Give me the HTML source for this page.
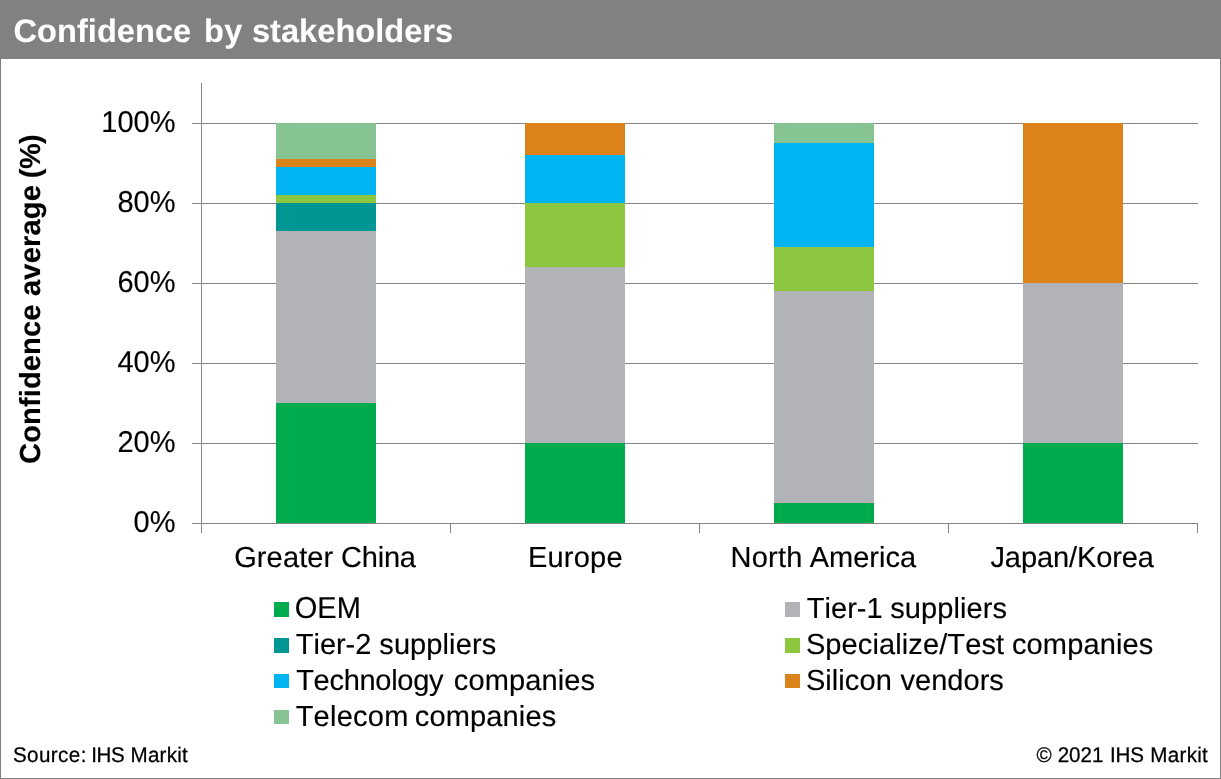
<!DOCTYPE html>
<html lang="en"><head><meta charset="utf-8"><title>Confidence by stakeholders</title>
<style>
html,body{margin:0;padding:0;background:#fff;}
body{width:1221px;height:779px;overflow:hidden;position:relative;font-family:"Liberation Sans",Arial,sans-serif;}
svg{position:absolute;left:0;top:0;display:block;}
text{font-family:"Liberation Sans",Arial,sans-serif;fill:#000;font-kerning:none;white-space:pre;text-rendering:geometricPrecision;stroke:#000;stroke-width:0.15px;stroke-linejoin:round;}
</style></head><body>
<svg width="1221" height="779" viewBox="0 0 1221 779">
<rect x="0" y="0" width="1221" height="779" fill="#fff"/>
<g shape-rendering="crispEdges">
<rect x="0" y="0" width="1221" height="59" fill="#808281"/>
<rect x="0" y="59" width="1" height="720" fill="#808080"/>
<rect x="1220" y="59" width="1" height="720" fill="#808080"/>
<rect x="0" y="778" width="1221" height="1" fill="#808080"/>
<rect x="192" y="523" width="1006" height="1" fill="#868686"/>
<rect x="192" y="443" width="1006" height="1" fill="#868686"/>
<rect x="192" y="363" width="1006" height="1" fill="#868686"/>
<rect x="192" y="283" width="1006" height="1" fill="#868686"/>
<rect x="192" y="203" width="1006" height="1" fill="#868686"/>
<rect x="192" y="123" width="1006" height="1" fill="#868686"/>
<rect x="201" y="83" width="1" height="450" fill="#868686"/>
<rect x="450" y="523" width="1" height="10" fill="#868686"/>
<rect x="699" y="523" width="1" height="10" fill="#868686"/>
<rect x="948" y="523" width="1" height="10" fill="#868686"/>
<rect x="1197" y="523" width="1" height="10" fill="#868686"/>
<rect x="276" y="403" width="100" height="120" fill="#00ab4e"/>
<rect x="276" y="231" width="100" height="172" fill="#b1b3b6"/>
<rect x="276" y="203" width="100" height="28" fill="#009694"/>
<rect x="276" y="195" width="100" height="8" fill="#8dc73f"/>
<rect x="276" y="167" width="100" height="28" fill="#00b4f2"/>
<rect x="276" y="159" width="100" height="8" fill="#db821a"/>
<rect x="276" y="123" width="100" height="36" fill="#86c494"/>
<rect x="525" y="443" width="100" height="80" fill="#00ab4e"/>
<rect x="525" y="267" width="100" height="176" fill="#b1b3b6"/>
<rect x="525" y="203" width="100" height="64" fill="#8dc73f"/>
<rect x="525" y="155" width="100" height="48" fill="#00b4f2"/>
<rect x="525" y="123" width="100" height="32" fill="#db821a"/>
<rect x="774" y="503" width="100" height="20" fill="#00ab4e"/>
<rect x="774" y="291" width="100" height="212" fill="#b1b3b6"/>
<rect x="774" y="247" width="100" height="44" fill="#8dc73f"/>
<rect x="774" y="143" width="100" height="104" fill="#00b4f2"/>
<rect x="774" y="123" width="100" height="20" fill="#86c494"/>
<rect x="1023" y="443" width="100" height="80" fill="#00ab4e"/>
<rect x="1023" y="283" width="100" height="160" fill="#b1b3b6"/>
<rect x="1023" y="123" width="100" height="160" fill="#db821a"/>
<rect x="274" y="602" width="15" height="15" fill="#00ab4e"/>
<rect x="274" y="638" width="15" height="15" fill="#009694"/>
<rect x="274" y="674" width="15" height="14" fill="#00b4f2"/>
<rect x="274" y="710" width="15" height="14" fill="#86c494"/>
<rect x="785" y="602" width="15" height="15" fill="#b1b3b6"/>
<rect x="785" y="638" width="15" height="15" fill="#8dc73f"/>
<rect x="785" y="674" width="15" height="14" fill="#db821a"/>
</g>
<text font-size="32.6" font-weight="bold" style="fill:#fff;stroke:#fff;stroke-width:0.1px" y="42"><tspan x="13.46" style="letter-spacing:0.039px">Confidence</tspan> <tspan x="204.05" style="letter-spacing:0.180px">by</tspan> <tspan x="251.95" style="letter-spacing:0.024px">stakeholders</tspan></text>
<text font-size="29" transform="translate(0,532) scale(1,1.04)" y="0"><tspan x="133.62">0%</tspan></text>
<text font-size="29" transform="translate(0,452) scale(1,1.04)" y="0"><tspan x="117.49">20%</tspan></text>
<text font-size="29" transform="translate(0,372) scale(1,1.04)" y="0"><tspan x="117.49">40%</tspan></text>
<text font-size="29" transform="translate(0,292) scale(1,1.04)" y="0"><tspan x="117.49">60%</tspan></text>
<text font-size="29" transform="translate(0,212) scale(1,1.04)" y="0"><tspan x="117.49">80%</tspan></text>
<text font-size="29" transform="translate(0,132) scale(1,1.04)" y="0"><tspan x="101.36">100%</tspan></text>
<text font-size="29" y="566.8"><tspan x="234.14" style="letter-spacing:0.138px">Greater</tspan> <tspan x="340.93" style="letter-spacing:-0.175px">China</tspan></text>
<text font-size="29" y="566.8"><tspan x="527.92" style="letter-spacing:0.231px">Europe</tspan></text>
<text font-size="29" y="566.8"><tspan x="730.52" style="letter-spacing:0.237px">North</tspan> <tspan x="809.74">America</tspan></text>
<text font-size="29" y="566.8"><tspan x="990.45" style="letter-spacing:-0.090px">Japan/Korea</tspan></text>
<g transform="translate(40,299.3) rotate(-90)">
<text font-size="29" font-weight="bold" y="0"><tspan x="-164.59" style="letter-spacing:0.142px">Confidence</tspan> <tspan x="3.35" style="letter-spacing:0.200px">average</tspan> <tspan x="121.16" style="letter-spacing:-0.606px">(%)</tspan></text>
</g>
<text font-size="29" transform="translate(0,618) scale(1,1.04)" y="0"><tspan x="294.73" style="letter-spacing:0.048px">OEM</tspan></text>
<text font-size="29" y="654"><tspan x="295.85" style="letter-spacing:-0.044px">Tier-2</tspan> <tspan x="379.29" style="letter-spacing:0.100px">suppliers</tspan></text>
<text font-size="29" y="690"><tspan x="296.15" style="letter-spacing:-0.280px">Technology</tspan> <tspan x="453.87" style="letter-spacing:0.117px">companies</tspan></text>
<text font-size="29" y="726"><tspan x="295.65" style="letter-spacing:0.244px">Telecom</tspan> <tspan x="414.87" style="letter-spacing:0.130px">companies</tspan></text>
<text font-size="29" y="618"><tspan x="806.85">Tier-1</tspan> <tspan x="890.29" style="letter-spacing:0.087px">suppliers</tspan></text>
<text font-size="29" y="654"><tspan x="805.88" style="letter-spacing:0.113px">Specialize/Test</tspan> <tspan x="1011.97" style="letter-spacing:0.130px">companies</tspan></text>
<text font-size="29" y="690"><tspan x="805.88" style="letter-spacing:0.079px">Silicon</tspan> <tspan x="900.50" style="letter-spacing:0.029px">vendors</tspan></text>
<text font-size="20.6" transform="translate(0,762) scale(1,1.03)" y="0" style="stroke-width:0.25px"><tspan x="12.96" style="letter-spacing:0.404px">Source:</tspan> <tspan x="91.20" style="letter-spacing:-0.347px">IHS</tspan> <tspan x="130.51" style="letter-spacing:0.253px">Markit</tspan></text>
<text font-size="20.6" transform="translate(0,762) scale(1,1.03)" y="0" style="stroke-width:0.25px"><tspan x="1036.59">©</tspan> <tspan x="1057.66">2021</tspan> <tspan x="1110.00" style="letter-spacing:-0.197px">IHS</tspan> <tspan x="1150.31" style="letter-spacing:0.293px">Markit</tspan></text>
</svg></body></html>
